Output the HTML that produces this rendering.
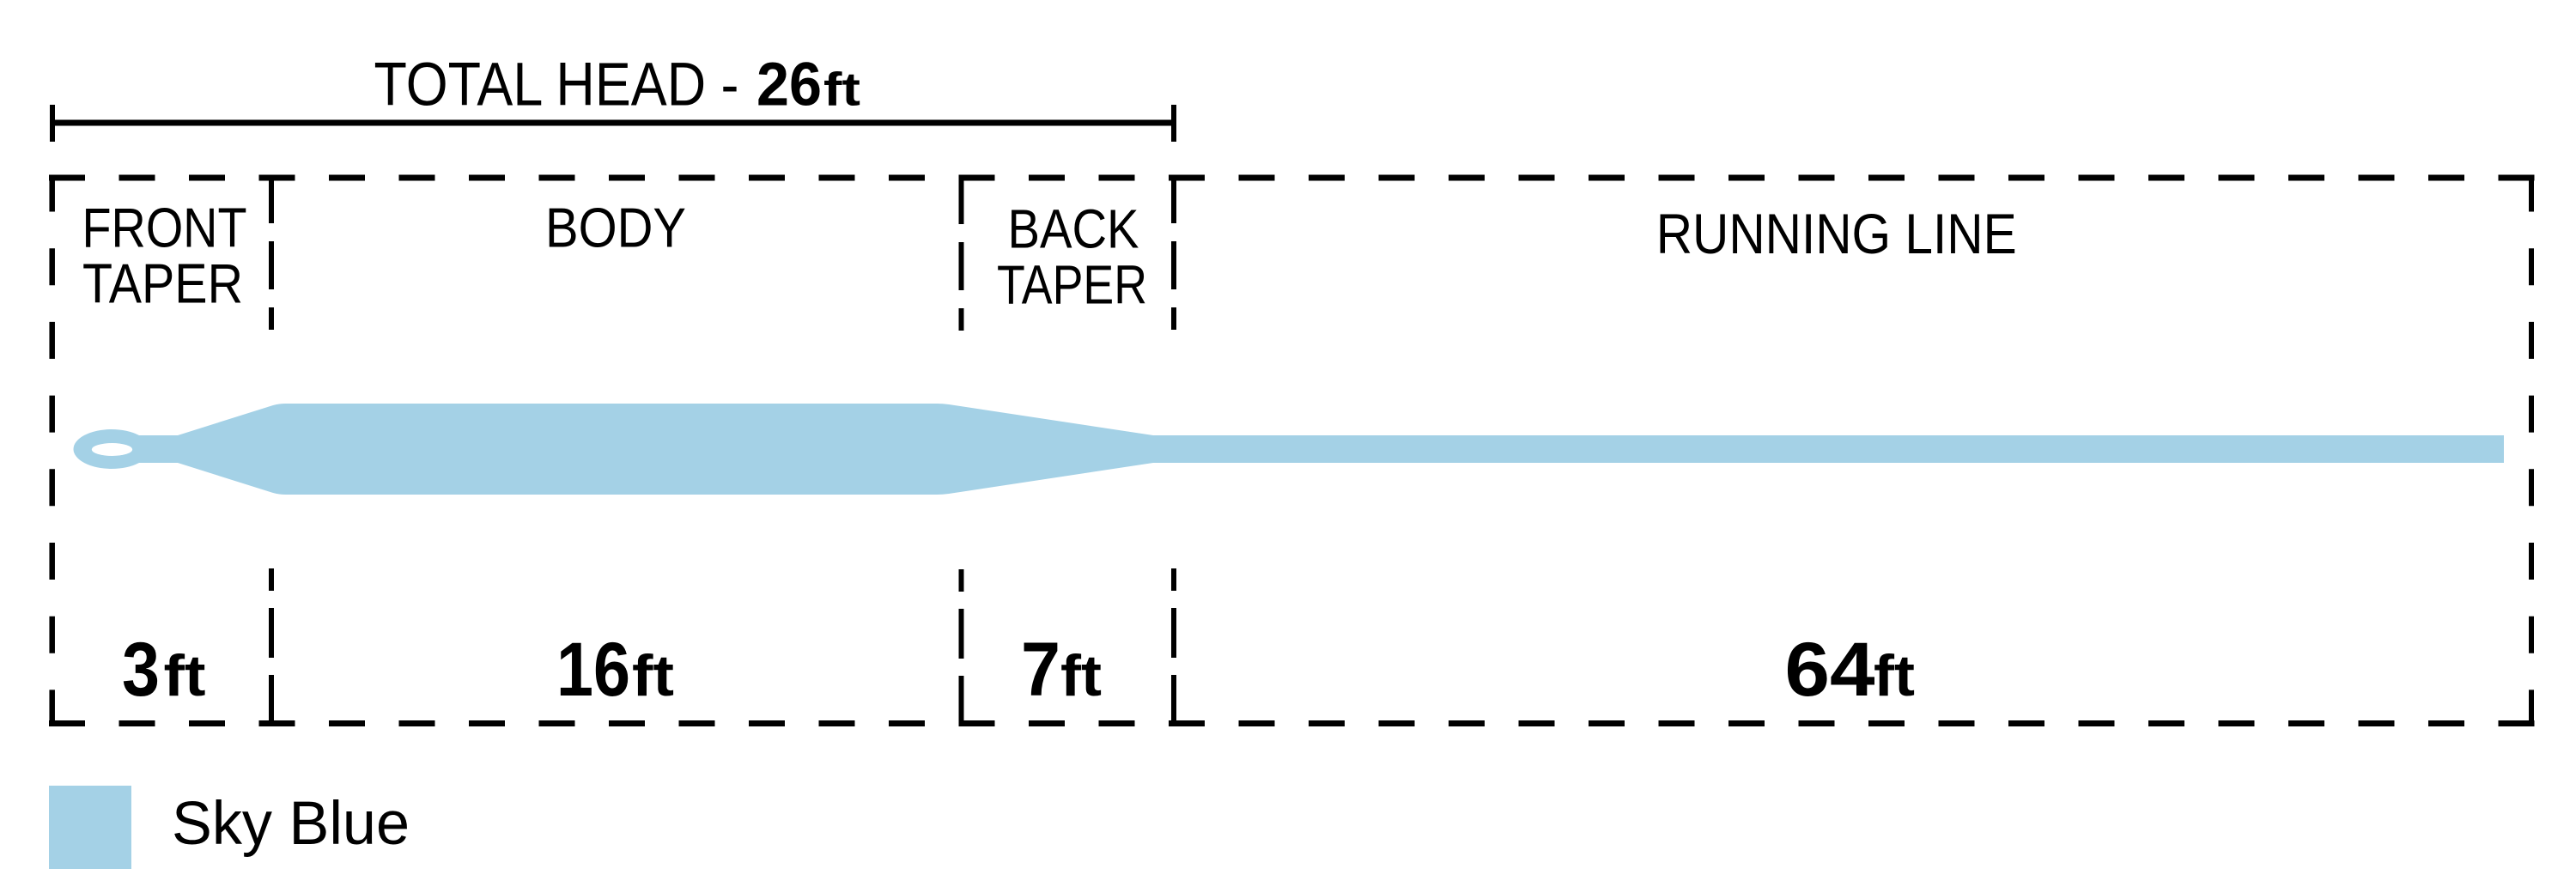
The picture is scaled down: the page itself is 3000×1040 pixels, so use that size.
<!DOCTYPE html>
<html>
<head>
<meta charset="utf-8">
<style>
  html, body { margin: 0; padding: 0; background: #ffffff; }
  body { width: 3000px; height: 1040px; overflow: hidden; }
  svg { display: block; }
  text { font-family: "Liberation Sans", "DejaVu Sans", sans-serif; fill: #000; }
</style>
</head>
<body>
<svg width="3000" height="1040" viewBox="0 0 3000 1040" xmlns="http://www.w3.org/2000/svg">
  <rect x="0" y="0" width="3000" height="1040" fill="#ffffff"/>

  <!-- Title -->
  <text x="435.5" y="122.3" font-size="71" textLength="425" lengthAdjust="spacingAndGlyphs">TOTAL HEAD -</text>
  <text x="881" y="122.3" font-size="71" font-weight="bold" textLength="76" lengthAdjust="spacingAndGlyphs">26</text>
  <text x="959" y="122.3" font-size="55" font-weight="bold" textLength="43" lengthAdjust="spacingAndGlyphs">ft</text>

  <!-- Total head bar -->
  <rect x="61" y="139.5" width="1306" height="7" fill="#000"/>
  <rect x="58" y="122" width="6" height="43" fill="#000"/>
  <rect x="1364" y="122" width="6" height="43" fill="#000"/>

  <!-- Dashed box: horizontal edges -->
  <g stroke="#000" fill="none">
    <path d="M57 207 H2951.5" stroke-width="7" stroke-dasharray="42 39.5"/>
    <path d="M57 842.5 H2951.5" stroke-width="7" stroke-dasharray="42 39.5"/>
    <!-- outer verticals -->
    <path d="M60.7 203.5 V846" stroke-width="6.5" stroke-dasharray="43 42.7"/>
    <path d="M2948 203.5 V846" stroke-width="6" stroke-dasharray="43 42.7"/>
  </g>

  <!-- Interior dividers -->
  <g stroke="#000" stroke-width="6" fill="none">
    <path d="M316 203.5 V260 M316 281 V337 M316 358 V384 M316 662 V688 M316 708 V766 M316 786 V846"/>
    <path d="M1119.5 203.5 V261 M1119.5 282 V338 M1119.5 359 V385 M1119.5 663 V689 M1119.5 709 V767 M1119.5 787 V846"/>
    <path d="M1367 203.5 V260 M1367 281 V337 M1367 358 V384 M1367 662 V688 M1367 708 V766 M1367 786 V846"/>
  </g>

  <!-- Section labels -->
  <text x="191.5" y="287.7" font-size="65" text-anchor="middle" textLength="192" lengthAdjust="spacingAndGlyphs">FRONT</text>
  <text x="189.5" y="352.7" font-size="65" text-anchor="middle" textLength="187" lengthAdjust="spacingAndGlyphs">TAPER</text>
  <text x="717" y="287.7" font-size="65" text-anchor="middle" textLength="164" lengthAdjust="spacingAndGlyphs">BODY</text>
  <text x="1250" y="288.7" font-size="64" text-anchor="middle" textLength="153" lengthAdjust="spacingAndGlyphs">BACK</text>
  <text x="1248.5" y="353.3" font-size="64" text-anchor="middle" textLength="175" lengthAdjust="spacingAndGlyphs">TAPER</text>
  <text x="2138.7" y="295" font-size="66" text-anchor="middle" textLength="420" lengthAdjust="spacingAndGlyphs">RUNNING LINE</text>

  <!-- Fly line -->
  <g fill="#A4D1E6">
    <ellipse cx="130" cy="523" rx="44.5" ry="23"/>
    <path d="M150 507 L207 507 L318 472 Q325 470 333 470 L1091 470 Q1098 470 1105 471 L1343 507 L2916 507 L2916 539 L1343 539 L1105 575 Q1098 576 1091 576 L333 576 Q325 576 318 574 L207 539 L150 539 Z"/>
    <path d="M155 506 Q163 509 170 507 L170 539 Q163 537 155 540 Z"/>
  </g>
  <ellipse cx="130.5" cy="523.5" rx="23.7" ry="7.5" fill="#ffffff"/>

  <!-- Lengths -->
  <text x="142" y="810" font-size="89" font-weight="bold" textLength="44" lengthAdjust="spacingAndGlyphs">3</text>
  <text x="190.5" y="810" font-size="68" font-weight="bold" textLength="49" lengthAdjust="spacingAndGlyphs">ft</text>

  <text x="648" y="810" font-size="89" font-weight="bold" textLength="86" lengthAdjust="spacingAndGlyphs">16</text>
  <text x="736" y="810" font-size="68" font-weight="bold" textLength="49" lengthAdjust="spacingAndGlyphs">ft</text>

  <text x="1189" y="810" font-size="89" font-weight="bold" textLength="46" lengthAdjust="spacingAndGlyphs">7</text>
  <text x="1235" y="810" font-size="68" font-weight="bold" textLength="48" lengthAdjust="spacingAndGlyphs">ft</text>

  <text x="2078.5" y="810" font-size="89" font-weight="bold" textLength="105" lengthAdjust="spacingAndGlyphs">64</text>
  <text x="2182" y="810" font-size="68" font-weight="bold" textLength="48" lengthAdjust="spacingAndGlyphs">ft</text>

  <!-- Legend -->
  <rect x="57" y="915" width="96" height="97" fill="#A4D1E6"/>
  <text x="200" y="983" font-size="71" textLength="277" lengthAdjust="spacingAndGlyphs">Sky Blue</text>
</svg>
</body>
</html>
